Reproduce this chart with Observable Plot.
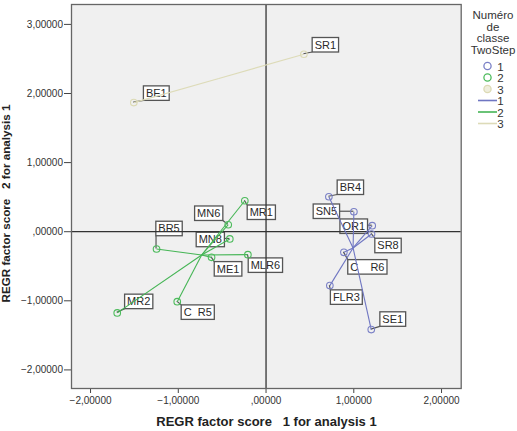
<!DOCTYPE html>
<html><head><meta charset="utf-8">
<script src="https://cdn.jsdelivr.net/npm/d3@7"></script>
<script src="https://cdn.jsdelivr.net/npm/@observablehq/plot@0.6"></script>
<style>
body{margin:0;background:#fff;}
#chart svg{display:block;}
</style>
</head><body><div id="chart"></div>
<script>
// ---- data ----
const cases   = ["MR1","MN6","MN8","BR5","ME1","MLR6","C  R5","MR2",
                 "BR4","SN5","OR1","SR8","C    R6","FLR3","SE1",
                 "BE1","SR1"];
const factor1 = [-0.242,-0.431,-0.413,-1.248,-0.621,-0.207,-1.012,-1.696,
                  0.716, 1.001, 1.210, 1.202, 0.887, 0.727, 1.199,
                 -1.507, 0.431];
const factor2 = [ 0.448, 0.101,-0.105,-0.250,-0.371,-0.332,-1.012,-1.175,
                  0.506, 0.289, 0.087,-0.033,-0.299,-0.780,-1.416,
                  1.868, 2.568];
const cluster = [2,2,2,2,2,2,2,2, 1,1,1,1,1,1,1, 3,3];
const clusterNames = ["1","2","3"];
const xTicks = [-2,-1,0,1,2];
const yTicks = [-2,-1,0,1,2,3];
const xTitle = "REGR factor score   1 for analysis 1";
const yTitle = "REGR factor score   2 for analysis 1";
const legendTitle = ["Numéro","de","classe","TwoStep"];

// ---- layout (label box offsets from point, px) ----
const labelDx = [17,-19,-19,13,17,18,21,22, 22,-27,-18,17,24,17,22, 23,22];
const labelDy = [12,-11,1,-20,12,11,11,-11, -9,0,1,12,15,12,-10, -9,-9];

const colors = {1:"#7a80c6", 2:"#4dbb5c", 3:"#dcdab4"};
const lineColors = {1:"#6f76c2", 2:"#45b555", 3:"#dddbb8"};

const rows = cases.map((c,i)=>({name:c, x:factor1[i], y:factor2[i], k:cluster[i], i}));
const cent = new Map(d3.groups(rows, d=>d.k).map(([k,v])=>[k,{x:d3.mean(v,d=>d.x), y:d3.mean(v,d=>d.y)}]));
const spokes = rows.map(d=>({k:d.k, x1:cent.get(d.k).x, y1:cent.get(d.k).y, x2:d.x, y2:d.y}));

const fmt = d => {
  let s = d3.format(".5f")(d).replace(".", ",");
  if (Math.abs(d) < 1) s = s.replace(/^(-?)0/, "$1");
  return s;
};

const ctx = document.createElement("canvas").getContext("2d");
ctx.font = "11px 'Liberation Sans', Arial, sans-serif";

function labelMark(index, scales) {
  const g = d3.create("svg:g");
  rows.forEach((d,i)=>{
    const px = scales.x(d.x), py = scales.y(d.y);
    const w = ctx.measureText(d.name).width + 5, h = 14.5;
    const cx = px + labelDx[i], cy = py + labelDy[i];
    const x0 = cx - w/2, y0 = cy - h/2;
    const nx = Math.max(x0, Math.min(px, x0+w)), ny = Math.max(y0, Math.min(py, y0+h));
    g.append("line").attr("x1",px).attr("y1",py).attr("x2",nx).attr("y2",ny)
      .attr("stroke","#555").attr("stroke-width",1.2);
    g.append("rect").attr("x",x0).attr("y",y0).attr("width",w).attr("height",h)
      .attr("fill","#fff").attr("stroke","#555").attr("stroke-width",1.3);
    g.append("text").attr("x",cx).attr("y",cy).attr("text-anchor","middle")
      .attr("dominant-baseline","central").attr("font-size",11)
      .attr("font-family","'Liberation Sans', Arial, sans-serif")
      .attr("fill","#2a2a2a").style("white-space","pre").text(d.name);
  });
  return g.node();
}

const W = 517, H = 431;
const plot = Plot.plot({
  width: W, height: H,
  marginLeft: 71, marginRight: 56.3, marginTop: 4, marginBottom: 43,
  style: {background:"#fff", color:"#333", fontFamily:"'Liberation Sans', Arial, sans-serif"},
  x: {domain:[-2.217, 2.224]},
  y: {domain:[-2.269, 3.288]},
  marks: [
    Plot.frame({fill:"#f0f0f0", stroke:null}),
    Plot.axisX({ticks:xTicks, tickFormat:fmt, tickSize:5, tickPadding:3, fontSize:10, label:null, stroke:"#444"}),
    Plot.axisY({ticks:yTicks, tickFormat:fmt, tickSize:7, tickPadding:1.5, fontSize:10, label:null, stroke:"#444"}),
    labelMark,
    Plot.ruleX([0], {stroke:"#333", strokeWidth:1.3}),
    Plot.ruleY([0], {stroke:"#333", strokeWidth:1.3}),
    Plot.link(spokes, {x1:"x1", y1:"y1", x2:"x2", y2:"y2", stroke:d=>lineColors[d.k], strokeWidth:1.1}),
    Plot.dot(rows, {x:"x", y:"y", r:3.3, stroke:d=>colors[d.k], fill:"none", strokeWidth:1.1}),
    Plot.frame({stroke:"#666", strokeWidth:1.3})
  ]
});
document.getElementById("chart").appendChild(plot);

const svg = d3.select(plot);
svg.append("text").attr("x",266.5).attr("y",421.5).attr("text-anchor","middle")
  .attr("dominant-baseline","central").attr("font-size",13).attr("font-weight","bold")
  .attr("fill","#222").style("white-space","pre").text(xTitle);
svg.append("text").attr("transform","translate(5,203.5) rotate(-90)").attr("text-anchor","middle")
  .attr("dominant-baseline","central").attr("font-size",11.7).attr("font-weight","bold")
  .attr("fill","#222").style("white-space","pre").text(yTitle);

const lg = svg.append("g").attr("font-size",11.5).attr("fill","#333");
legendTitle.forEach((t,j)=>{
  lg.append("text").attr("x",493).attr("y",15 + j*11.5).attr("text-anchor","middle")
    .attr("dominant-baseline","central").text(t);
});
clusterNames.forEach((n,j)=>{
  const k = +n;
  const yy = 66 + j*11.5;
  lg.append("circle").attr("cx",487.5).attr("cy",yy).attr("r",3.6)
    .attr("fill", k===3 ? "#efeedd" : "none").attr("stroke",colors[k]).attr("stroke-width",1.3);
  lg.append("text").attr("x",500.5).attr("y",yy+0.5).attr("dominant-baseline","central").text(n);
});
clusterNames.forEach((n,j)=>{
  const k = +n;
  const yy = 66 + (j+3)*11.5;
  lg.append("line").attr("x1",478).attr("x2",497).attr("y1",yy).attr("y2",yy)
    .attr("stroke",lineColors[k]).attr("stroke-width",1.6);
  lg.append("text").attr("x",500.5).attr("y",yy+0.5).attr("dominant-baseline","central").text(n);
});
</script>
</body></html>
